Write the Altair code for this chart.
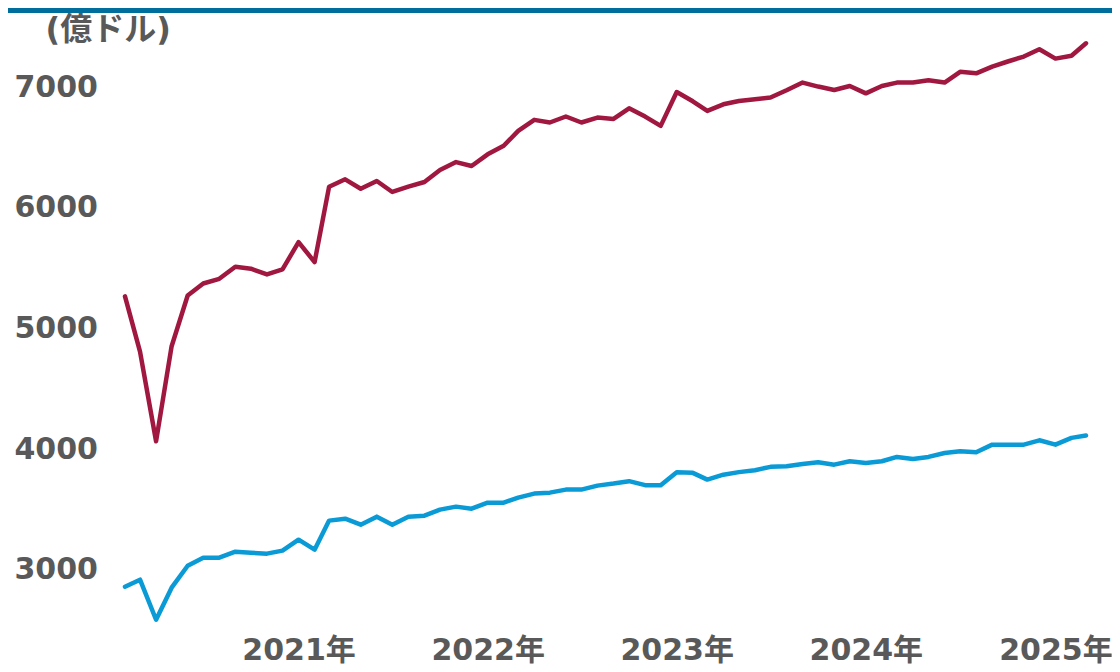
import altair as alt
import pandas as pd

# Monthly series, Feb 2020 - Mar 2025 (億ドル)
months = [str(d.date()) for d in pd.date_range("2020-02-01", periods=62, freq="MS")]

series_red = [
    5266, 4809, 4065, 4853, 5274, 5373, 5412, 5512, 5496, 5448, 5490, 5716,
    5551, 6176, 6237, 6159, 6223, 6132, 6176, 6215, 6314, 6380, 6347, 6444,
    6515, 6639, 6730, 6708, 6758, 6708, 6749, 6738, 6826, 6757, 6680, 6961,
    6884, 6804, 6859, 6887, 6901, 6915, 6975, 7039, 7006, 6978, 7011, 6950,
    7011, 7039, 7039, 7058, 7039, 7128, 7116, 7172, 7214, 7255, 7315, 7238,
    7261, 7365,
]
series_blue = [
    2859, 2917, 2585, 2851, 3033, 3100, 3100, 3149, 3141, 3133, 3158, 3249,
    3166, 3407, 3423, 3373, 3440, 3373, 3440, 3448, 3498, 3523, 3506, 3556,
    3556, 3598, 3631, 3639, 3664, 3664, 3697, 3714, 3734, 3701, 3701, 3809,
    3803, 3747, 3788, 3809, 3825, 3853, 3858, 3877, 3891, 3871, 3899, 3885,
    3899, 3935, 3918, 3935, 3968, 3982, 3974, 4037, 4037, 4037, 4073, 4037,
    4093, 4112,
]
series_names = ["A", "B"]
series_colors = ["#A0173F", "#0A9AD6"]
y_ticks = [3000, 4000, 5000, 6000, 7000]
x_tick_years = [2021, 2022, 2023, 2024, 2025]
year_suffix = "年"
y_title = "(億ドル)"

df = pd.DataFrame({
    "date": months * 2,
    "value": series_red + series_blue,
    "series": [series_names[0]] * len(months) + [series_names[1]] * len(months),
})

FONT = "DejaVu Sans, Noto Sans CJK JP"
GRAY = "#595959"

W, H = 961, 603
PL, PT = 117, 19

lines = alt.Chart(df).mark_line(strokeWidth=4.5, strokeJoin="round", strokeCap="round").encode(
    x=alt.X(
        "date:T",
        scale=alt.Scale(
            type="utc",
            domain=[alt.DateTime(year=2020, month=2, date=1, utc=True),
                    alt.DateTime(year=2025, month=3, date=1, utc=True)],
        ),
        axis=alt.Axis(
            values=[alt.DateTime(year=y, month=1, date=1, utc=True) for y in x_tick_years],
            labelExpr=f"utcyear(datum.value) + '{year_suffix}'",
            title=None, grid=False, domain=False, ticks=False, tickSize=0,
            labelFont=FONT, labelFontSize=30, labelFontWeight="bold", labelColor=GRAY,
            labelPadding=5, labelBaseline="top", labelFlush=False, labelOverlap=False,
            labelLimit=400,
        ),
    ),
    y=alt.Y(
        "value:Q",
        scale=alt.Scale(domain=[2500, 7500], nice=False, zero=False),
        axis=alt.Axis(
            values=y_ticks, title=y_title, titleAngle=0, titleAlign="left",
            titleBaseline="middle", titleX=-80, titleY=2,
            titleFont=FONT, titleFontSize=32, titleFontWeight="bold", titleColor=GRAY,
            grid=False, domain=False, ticks=False, tickSize=0,
            labelFont=FONT, labelFontSize=30, labelFontWeight="bold", labelColor=GRAY,
            labelAlign="left", labelPadding=111, labelBaseline="middle", format="d",
        ),
    ),
    color=alt.Color("series:N", scale=alt.Scale(domain=series_names, range=series_colors), legend=None),
)

topbar = alt.Chart(pd.DataFrame({"k": [0]})).mark_rule(color="#006E9C", strokeWidth=5).encode(
    x=alt.value(-PL), x2=alt.value(W + 26), y=alt.value(-PT + 2.5)
)

chart = alt.layer(topbar, lines).properties(
    width=W, height=H,
    autosize=alt.AutoSizeParams(type="none"),
    padding={"left": PL, "top": PT, "right": 26, "bottom": 34},
).configure_view(stroke=None)

chart.save("out.html", embed_options={"renderer": "svg", "actions": False})
